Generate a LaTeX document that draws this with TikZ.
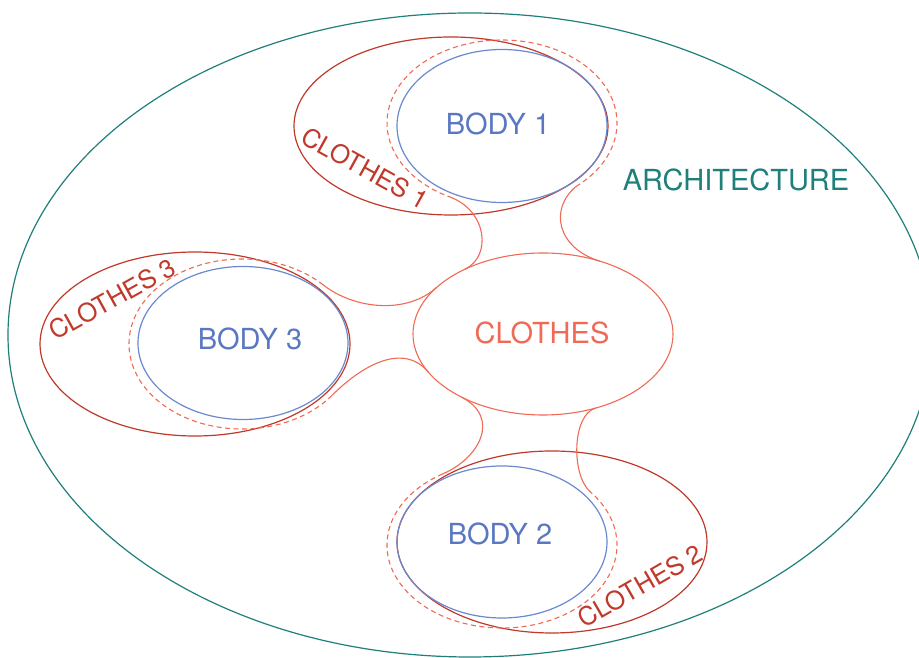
\documentclass[tikz,border=0pt]{standalone}
\usepackage{fontspec}
\setmainfont{TeX Gyre Heros}
\usetikzlibrary{shapes.geometric,calc}
\definecolor{archteal}{HTML}{1F7F7B}
\definecolor{bodyblue}{HTML}{6B89CF}
\definecolor{bodytext}{HTML}{5A78C2}
\definecolor{garmentred}{HTML}{C0392B}
\definecolor{coral}{HTML}{F06A55}
\begin{document}
\begin{tikzpicture}[x=1pt,y=1pt,
  blob/.style={ellipse, draw, inner sep=0pt, line width=1.2pt},
  bodyshape/.style={blob, draw=bodyblue, minimum width=210pt, minimum height=153pt},
  garment/.style={blob, draw=garmentred, minimum width=312pt, minimum height=181pt},
  seam/.style={draw=coral, line width=1.1pt, dash pattern=on 5pt off 3.5pt},
  link/.style={draw=coral, line width=1.1pt},
  biglabel/.style={inner sep=0pt, font=\fontsize{29}{34}\selectfont},
  sidelabel/.style={inner sep=0pt, font=\fontsize{25.5}{30}\selectfont, text=garmentred}
]
\useasboundingbox (0,0) rectangle (919,658);
\fill[white] (0,0) rectangle (919,658);

% outer architecture boundary
\node[blob, draw=archteal, minimum width=924pt, minimum height=644pt] (arch) at (470,323) {};
\node[biglabel, text=archteal] (archlabel) at (736,478) {ARCHITECTURE};

% central clothes
\node[blob, draw=coral, line width=1.1pt, minimum width=260pt, minimum height=162pt] (clothes) at (543,324) {};
\node[biglabel, text=coral] (clotheslabel) at (542,325) {CLOTHES};

% garments
\node[garment, minimum width=314pt, minimum height=178pt] (g1) at (451,532) {};
\node[garment, minimum width=310pt, minimum height=184pt] (g3) at (195,314) {};
\node[garment, minimum width=310pt, minimum height=182pt] (g2) at (552,116) {};

% bodies
\node[bodyshape] (b1) at (502,532) {};
\node[bodyshape] (b3) at (243,315) {};
\node[bodyshape, minimum height=152pt] (b2) at (502,116) {};
\node[biglabel, text=bodytext] (b1label) at (498,534) {BODY 1};
\node[biglabel, text=bodytext] (b3label) at (250,319) {BODY 3};
\node[biglabel, text=bodytext] (b2label) at (500,124) {BODY 2};

% garment labels
\node[sidelabel, rotate=-29] (g1label) at (365,490) {CLOTHES 1};
\node[sidelabel, rotate=29] (g3label) at (112,359) {CLOTHES 3};
\node[sidelabel, rotate=30] (g2label) at (640,72) {CLOTHES 2};

% junctions on the central clothes outline
\coordinate (j1l) at ($(clothes.center)+(127:130 and 81)$);
\coordinate (j1r) at ($(clothes.center)+(64:130 and 81)$);
\coordinate (j3u) at ($(clothes.center)+(145:130 and 81)$);
\coordinate (j3l) at ($(clothes.center)+(208:130 and 81)$);
\coordinate (j2l) at ($(clothes.center)+(231:130 and 81)$);
\coordinate (j2r) at ($(clothes.center)+(-66:130 and 81)$);

% dashed wraps around each body and their links to the centre
\coordinate (w1) at (502,535);
\coordinate (w1a) at ($(w1)+(243:115 and 83)$);
\coordinate (w1b) at ($(w1)+(-50:115 and 83)$);
\draw[seam] (w1b) arc[start angle=-50, end angle=243, x radius=115pt, y radius=83pt];
\draw[link] (w1a) to[out=-20, in=25, out distance=40pt, in distance=30pt] (j1l);
\draw[link] (w1b) to[out=220, in=163, out distance=35pt, in distance=45pt] (j1r);

\coordinate (w3) at (242,314);
\coordinate (w3a) at ($(w3)+(44:113 and 85)$);
\coordinate (w3b) at ($(w3)+(-37:113 and 85)$);
\draw[seam] (w3a) arc[start angle=44, end angle=323, x radius=113pt, y radius=85pt];
\draw[link] (w3a) to[out=-38, in=222, out distance=40pt, in distance=40pt] (j3u);
\draw[link] (w3b) to[out=45, in=130, out distance=40pt, in distance=40pt] (j3l);

\coordinate (w2) at (502,113);
\coordinate (w2a) at ($(w2)+(121:115 and 83)$);
\coordinate (w2b) at ($(w2)+(40:115 and 83)$);
\draw[seam] (w2a) arc[start angle=121, end angle=400, x radius=115pt, y radius=83pt];
\draw[link] (w2a) to[out=23, in=-27, out distance=40pt, in distance=45pt] (j2l);
\draw[link] (w2b) to[out=139, in=195, out distance=25pt, in distance=25pt] (j2r);
\end{tikzpicture}
\end{document}
